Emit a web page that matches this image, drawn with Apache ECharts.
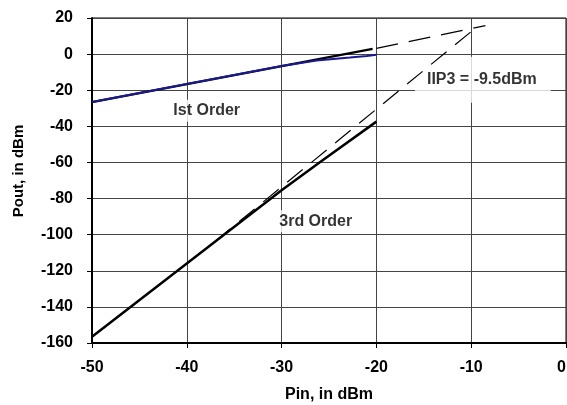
<!DOCTYPE html>
<html><head><meta charset="utf-8">
<script src="https://cdn.jsdelivr.net/npm/echarts@6/dist/echarts.min.js"></script>
<style>html,body{margin:0;padding:0;background:#fff}#c{width:567px;height:405px}</style>
</head><body><div id="c"></div>
<script>
var xTicks = [-50, -40, -30, -20, -10, 0];
var yTicks = [-160, -140, -120, -100, -80, -60, -40, -20, 0, 20];
// 1st order: measured (blue) and fitted (black)
var firstMeasured = [[-50,-26.5],[-40,-16.6],[-30,-6.6],[-26.3,-3.6],[-22.8,-1.9],[-21,-1.0],[-20,-0.3]];
var firstFit = [[-50,-26.6],[-20.4,2.9]];
var firstExtrap = [[-20,3.2],[-8.5,15.8]];
// 3rd order: measured and extrapolation
var thirdMeasured = [[-50,-156.5],[-40,-116],[-30,-75.4],[-26,-60],[-20,-37.4]];
var thirdExtrap = [[-37,-103.6],[-9.6,14.2]];
// annotations
var notes = [
  {name:'Ist Order', x:-37.9, y:-31.4},
  {name:'3rd Order', x:-26.4, y:-92.5},
  {name:'IIP3 = -9.5dBm', x:-8.77, y:-14.2}
];
var FONT = 'Liberation Sans, Arial, sans-serif';
var chart = echarts.init(document.getElementById('c'));
var noteSeries = notes.map(function(n, i){
  var big = (i === 2);
  return {
    type:'scatter', z:1, symbolSize:0, silent:true,
    data:[[n.x, n.y]],
    label:{show:true, position:'inside', formatter:n.name,
      fontFamily:FONT, fontWeight:'bold', fontSize:16, color:'#000',
      backgroundColor:'#fff',
      padding: big ? [17.5,14,12.5,12] : [3,2,3,2]}
  };
});
chart.setOption({
  animation:false,
  grid:{left:92, right:1, top:18, bottom:62, outerBoundsMode:'none', containLabel:false,
    show:true, borderColor:'#000', borderWidth:1},
  xAxis:{type:'value', min:-50, max:0, interval:10,
    name:'Pin, in dBm', nameLocation:'middle', nameGap:44,
    nameTextStyle:{fontFamily:FONT, fontWeight:'bold', fontSize:16, color:'#000'},
    axisLine:{onZero:false, lineStyle:{color:'#000', width:2}},
    axisTick:{show:true, length:5, lineStyle:{color:'#000', width:1}},
    axisLabel:{margin:17, fontFamily:FONT, fontWeight:'bold', fontSize:16, color:'#000',
      alignMaxLabel:'right',
      formatter:function(v){return xTicks.indexOf(v)>=0 ? String(v) : '';}},
    splitLine:{show:true, lineStyle:{color:'#444', width:1}}
  },
  yAxis:{type:'value', min:-160, max:20, interval:20,
    name:'Pout, in dBm', nameLocation:'middle', nameGap:66, nameRotate:90,
    nameTextStyle:{fontFamily:FONT, fontWeight:'bold', fontSize:15, color:'#000', padding:[0,0,0,19]},
    axisLine:{show:true, onZero:false, lineStyle:{color:'#000', width:2}},
    axisTick:{show:true, length:5, lineStyle:{color:'#000', width:1}},
    axisLabel:{margin:19, fontFamily:FONT, fontWeight:'bold', fontSize:16, color:'#000',
      formatter:function(v){return yTicks.indexOf(v)>=0 ? String(v) : '';}},
    splitLine:{show:true, lineStyle:{color:'#444', width:1}}
  },
  series: noteSeries.concat([
    {type:'line', z:3, data:firstFit, showSymbol:false, symbol:'none', lineStyle:{color:'#000', width:2.5}},
    {type:'line', z:4, data:firstMeasured, showSymbol:false, symbol:'none', lineStyle:{color:'#1a1a90', width:2}},
    {type:'line', z:3, data:firstExtrap, showSymbol:false, symbol:'none', lineStyle:{color:'#000', width:1.2, type:[22,11]}},
    {type:'line', z:3, data:thirdExtrap, showSymbol:false, symbol:'none', lineStyle:{color:'#000', width:1.2, type:[20,11]}},
    {type:'line', z:4, data:thirdMeasured, showSymbol:false, symbol:'none', lineStyle:{color:'#000', width:2.5}}
  ])
});
</script></body></html>
